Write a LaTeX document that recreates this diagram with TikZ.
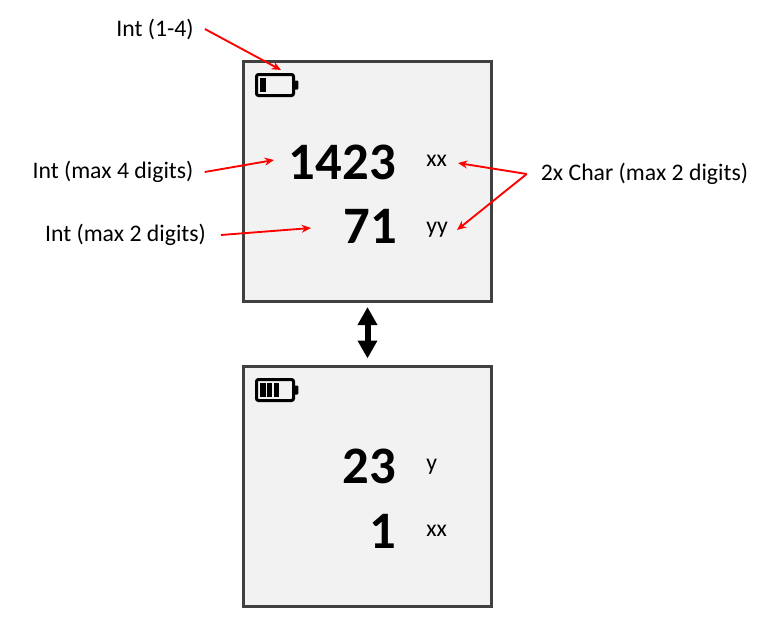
\documentclass[tikz,border=0pt]{standalone}
\usepackage{fontspec}
\setmainfont{Carlito}
\usetikzlibrary{positioning, arrows.meta}
\definecolor{panelfill}{HTML}{F2F2F2}
\definecolor{paneldraw}{HTML}{404040}
\tikzset{
    %Define style for screens
    panel/.style={
           rectangle,
           draw=paneldraw,
           line width=2.25pt,
           fill=panelfill,
           minimum width=186pt,
           minimum height=180pt},
 %
    bigval/.style={
           anchor=base east,
           inner sep=0pt,
           font=\fontsize{39.5}{40}\selectfont\bfseries},
 %
    unit/.style={
           anchor=base west,
           inner sep=0pt,
           font=\fontsize{17.8}{20}\selectfont},
 %
    note/.style={
           inner sep=0pt,
           font=\fontsize{17.8}{20}\selectfont},
 %
    % Define battery styles
    batcase/.style={
           rectangle,
           rounded corners=1.5pt,
           draw=black,
           line width=2.25pt,
           inner sep=0pt,
           minimum width=27.75pt,
           minimum height=15.75pt},
    batbar/.style={
           rectangle,
           fill=black,
           inner sep=0pt,
           minimum width=4pt,
           minimum height=10.5pt},
    batnub/.style={
           rectangle,
           rounded corners=0.8pt,
           fill=black,
           inner sep=0pt,
           minimum width=3.4pt,
           minimum height=6.75pt},
 %
    % Define arrow styles
    redarrow/.style={
           -{Stealth[length=7pt,width=6pt]},
           draw=red,
           line width=1.4pt},
    swaparrow/.style={
           {Triangle[length=13.5pt,width=14pt]}-{Triangle[length=13.5pt,width=14pt]},
           draw=black,
           line width=4.5pt,
           shorten <=3pt,
           shorten >=4.5pt}
}

\begin{document}
\begin{tikzpicture}[x=0.75pt,y=-0.75pt]
  \useasboundingbox (0,0) rectangle (761,625);

  \node[panel] (top) at (367.5,181.5) {};
  \node[panel] (bottom) at (367.5,486) {};

  \node[batcase] (batA) at (275,85) {};
  \node[batnub, right=-1pt of batA] (nubA) {};
  \node[batbar] (barA) at (263,85) {};

  \node[batcase] (batB) at (275,390) {};
  \node[batnub, right=-1pt of batB] (nubB) {};
  \node[batbar] (barB1) at (263,390) {};
  \node[batbar] (barB2) at (269.7,390) {};
  \node[batbar] (barB3) at (276.5,390) {};

  \node[bigval] (valA) at (396,179) {1423};
  \node[bigval] (valB) at (397.5,243) {71};
  \node[bigval] (valC) at (396,483) {23};
  \node[bigval] (valD) at (396,548) {1};

  \node[unit] (unitA) at (426,166) {xx};
  \node[unit] (unitB) at (426,233) {yy};
  \node[unit] (unitC) at (426,470) {y};
  \node[unit] (unitD) at (426,536) {xx};

  \node[note] (noteBat) at (155,29) {Int (1-4)};
  \node[note] (noteBig) at (113,172) {Int (max 4 digits)};
  \node[note] (noteSmall) at (125.5,235) {Int (max 2 digits)};
  \node[note] (noteChar) at (644.5,174) {2x Char (max 2 digits)};

  \coordinate (tipBat) at (281,70);
  \coordinate (tipBig) at (274,160);
  \coordinate (tipSmall) at (311,228);
  \coordinate (tipX) at (458,163);
  \coordinate (tipY) at (457,230);

  \path
    ([xshift=8.25pt]noteBat.east) edge[redarrow] (tipBat)
    ([xshift=8.25pt]noteBig.east) edge[redarrow] (tipBig)
    ([xshift=11pt]noteSmall.east) edge[redarrow] (tipSmall)
    ([xshift=-10.5pt]noteChar.west) edge[redarrow] (tipX)
    ([xshift=-10.5pt]noteChar.west) edge[redarrow] (tipY);

  \draw[swaparrow] (top.south) -- (bottom.north);
\end{tikzpicture}
\end{document}
